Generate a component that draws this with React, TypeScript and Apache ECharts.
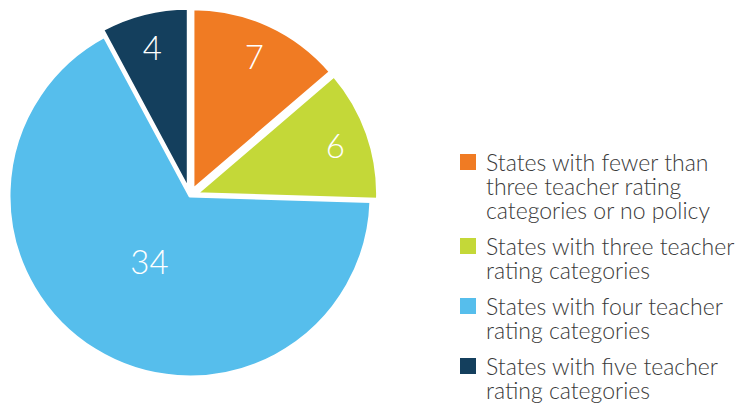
import React, { useEffect, useRef } from "react";
import * as echarts from "echarts";

const categories = [
  "States with fewer than\nthree teacher rating\ncategories or no policy",
  "States with three teacher\nrating categories",
  "States with four teacher\nrating categories",
  "States with five teacher\nrating categories",
];
const values = [7, 6, 34, 4];
const colors = ["#F07B23", "#C4D838", "#56BEEC", "#143F5D"];
const exploded = [true, true, false, true];

const FONT = "Lato";
const LINE_H = 24;

export default function App() {
  const ref = useRef<HTMLDivElement>(null);
  useEffect(() => {
    if (!ref.current) return;
    const chart = echarts.init(ref.current, null, { renderer: "svg" });
    const center = [190, 196];
    const baseData = categories.map((name, i) => ({
      name,
      value: values[i],
      selected: exploded[i],
      itemStyle: { color: colors[i] },
    }));
    const labelStyle = {
      show: true,
      position: "inside",
      color: "#ffffff",
      fontFamily: FONT,
      fontWeight: 300,
      fontSize: 33,
      formatter: "{c}",
    };
    const overlay = (radius: any, showIdx: (i: number) => boolean) => ({
      type: "pie",
      center,
      radius,
      startAngle: 90,
      clockwise: true,
      silent: true,
      selectedMode: "multiple",
      selectedOffset: 7,
      legendHoverLink: false,
      emphasis: { disabled: true },
      labelLine: { show: false },
      data: categories.map((name, i) => ({
        name,
        value: values[i],
        selected: exploded[i],
        itemStyle: { color: "rgba(0,0,0,0)", borderWidth: 0 },
        label: showIdx(i) ? labelStyle : { show: false },
      })),
      z: 5,
    });
    const rich: Record<string, any> = {
      t: {
        fontFamily: FONT,
        fontWeight: 300,
        fontSize: 23,
        lineHeight: LINE_H,
        color: "#3a3a3a",
      },
      g: { width: 10, lineHeight: LINE_H, fontSize: 1 },
      ind: { width: 26, lineHeight: LINE_H, fontSize: 1 },
    };
    colors.forEach((c, i) => {
      rich["sq" + i] = {
        width: 16,
        height: 16,
        backgroundColor: c,
        lineHeight: LINE_H,
        fontSize: 1,
        verticalAlign: "middle",
      };
    });
    chart.setOption({
      animation: false,
      color: colors,
      legend: {
        orient: "vertical",
        left: 454,
        top: 150,
        padding: 0,
        icon: "rect",
        itemWidth: 0,
        itemHeight: 0,
        itemGap: 12,
        itemStyle: { opacity: 0 },
        selectedMode: false,
        data: categories,
        formatter: (name: string) => {
          const i = categories.indexOf(name);
          return name
            .split("\n")
            .map((line, k) =>
              k === 0 ? `{sq${i}| }{g| }{t|${line}}` : `{ind| }{t|${line}}`
            )
            .join("\n");
        },
        textStyle: {
          fontFamily: FONT,
          fontWeight: 300,
          fontSize: 23,
          lineHeight: LINE_H,
          color: "#3a3a3a",
          rich,
        },
      },
      series: [
        {
          type: "pie",
          center,
          radius: 181,
          startAngle: 90,
          clockwise: true,
          selectedMode: "multiple",
          selectedOffset: 7,
          emphasis: { disabled: true },
          label: { show: false },
          labelLine: { show: false },
          itemStyle: { borderColor: "#ffffff", borderWidth: 3 },
          data: baseData,
        },
        overlay([108, 180], (i) => exploded[i]),
        overlay([0, 148], (i) => !exploded[i]),
      ],
    });
    return () => chart.dispose();
  }, []);
  return (
    <div
      ref={ref}
      style={{ position: "absolute", left: 0, top: 0, width: 745, height: 406 }}
    />
  );
}
